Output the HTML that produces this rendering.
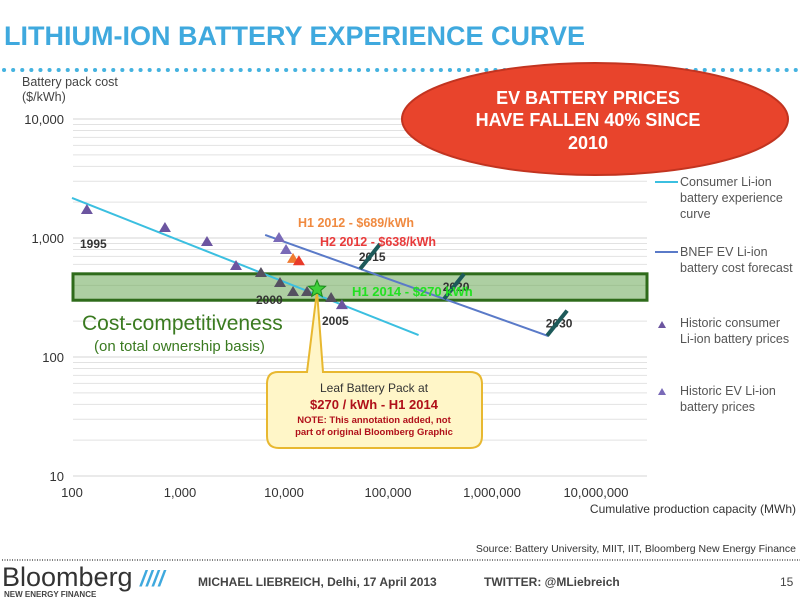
<!DOCTYPE html>
<html><head><meta charset="utf-8"><style>
body{margin:0;background:#fff;width:800px;height:599px;overflow:hidden;font-family:"Liberation Sans",sans-serif;}
svg text{font-family:"Liberation Sans",sans-serif;}
</style></head><body>
<svg id="c" width="800" height="599" viewBox="0 0 800 599">
<text x="4" y="45" font-size="27" font-weight="bold" fill="#3fa9de">LITHIUM-ION BATTERY EXPERIENCE CURVE</text>
<line x1="4" y1="70" x2="800" y2="70" stroke="#45b3e0" stroke-width="4" stroke-dasharray="0.1 9" stroke-linecap="round"/>
<text x="22" y="86" font-size="12.5" fill="#444">Battery pack cost</text>
<text x="22" y="101" font-size="12.5" fill="#444">($/kWh)</text>
<g id="grid"></g>
<g id="ticks"></g>
<rect id="band" fill="#6aa855" fill-opacity="0.55" stroke="#2e6b1a" stroke-width="3"/>
<g id="series"></g>
<text x="82" y="330" font-size="21" fill="#3a7a20">Cost-competitiveness</text>
<text x="94" y="351" font-size="15" fill="#3a7a20">(on total ownership basis)</text>
<g>
<path d="M278,372 L307,372 L317,291 L323,372 L470,372 Q482,372 482,384 L482,436 Q482,448 470,448 L279,448 Q267,448 267,436 L267,384 Q267,372 278,372 Z" fill="#fff6c8" stroke="#e8b830" stroke-width="2"/>
<text x="374" y="392" font-size="12" fill="#333" text-anchor="middle">Leaf Battery Pack at</text>
<text x="374" y="409" font-size="13" font-weight="bold" fill="#b0101a" text-anchor="middle">$270 / kWh - H1 2014</text>
<text x="374" y="423" font-size="9.5" font-weight="bold" fill="#b0101a" text-anchor="middle">NOTE: This annotation added, not</text>
<text x="374" y="435" font-size="9.5" font-weight="bold" fill="#b0101a" text-anchor="middle">part of original Bloomberg Graphic</text>
</g>
<g id="labels"></g>
<ellipse cx="595" cy="119" rx="193" ry="56" fill="#e8442c" stroke="#c23420" stroke-width="2"/>
<g font-size="18" font-weight="bold" fill="#fff" text-anchor="middle">
<text x="588" y="104">EV BATTERY PRICES</text><text x="588" y="126">HAVE FALLEN 40% SINCE</text><text x="588" y="149">2010</text></g>
<g font-size="12.5" fill="#555">
<line x1="655" y1="182" x2="678" y2="182" stroke="#3bbfe0" stroke-width="2"/>
<text x="680" y="186">Consumer Li-ion</text><text x="680" y="202">battery experience</text><text x="680" y="218">curve</text>
<line x1="655" y1="252" x2="678" y2="252" stroke="#5a7ac8" stroke-width="2"/>
<text x="680" y="256">BNEF EV Li-ion</text><text x="680" y="272">battery cost forecast</text>
<path d="M662,321 l4,7 h-8z" fill="#6c55a0"/><text x="680" y="327">Historic consumer</text><text x="680" y="343">Li-ion battery prices</text>
<path d="M662,388 l4,7 h-8z" fill="#7a6ab8"/><text x="680" y="395">Historic EV Li-ion</text><text x="680" y="411">battery prices</text>
</g>
<text x="796" y="513" font-size="12" fill="#333" text-anchor="end">Cumulative production capacity (MWh)</text>
<text x="796" y="552" font-size="10.5" fill="#333" text-anchor="end">Source: Battery University, MIIT, IIT, Bloomberg New Energy Finance</text>
<line x1="2" y1="560" x2="800" y2="560" stroke="#555" stroke-width="1.5" stroke-dasharray="1 1.5"/>
<text x="2" y="586" font-size="27" fill="#333">Bloomberg</text>
<text x="4" y="597" font-size="8" font-weight="bold" fill="#444">NEW ENERGY FINANCE</text>
<text x="140" y="586" font-size="22" font-weight="bold" fill="#3fa9de" font-style="italic">////</text>
<text x="198" y="586" font-size="12" font-weight="bold" fill="#444">MICHAEL LIEBREICH, Delhi, 17 April 2013</text>
<text x="484" y="586" font-size="12" font-weight="bold" fill="#444">TWITTER: @MLiebreich</text>
<text x="780" y="586" font-size="12" fill="#444">15</text>
</svg>
<script>
const yTicks=[10,100,1000,10000];
const yTickLabels=["10","100","1,000","10,000"];
const xTicks=[100,1000,10000,100000,1000000,10000000];
const xTickLabels=["100","1,000","10,000","100,000","1,000,000","10,000,000"];
const bandRange=[300,500];
const consumerCurveX=[100,215000];
const consumerCurveY=[2170,153];
const bnefCurveX=[7200,3800000];
const bnefCurveY=[1060,150];
const consumerPriceX=[139,783,1986,3776,6560,10000,13340,18200,31000,39400];
const consumerPriceY=[1720,1213,925,582,508,419,352,352,313,273];
const evPriceX=[9780,11430,13340,15200];
const evPriceY=[1000,793,667,638];
const evPriceColors=["#7a6ab8","#7a6ab8","#f07a30","#e83a2a"];
const forecastYears=["2015","2020","2030"];
const forecastX=[59000,378000,3700000];
const leafX=[22700];const leafY=[372];
const NS="http://www.w3.org/2000/svg";
const X=v=>72+104*(Math.log10(v)-2);
const Y=v=>119+119*(4-Math.log10(v));
function mk(tag,attrs,parent){const e=document.createElementNS(NS,tag);for(const k in attrs)e.setAttribute(k,attrs[k]);document.getElementById(parent).appendChild(e);return e;}
for(let d=10;d<10000;d*=10){for(let m=1;m<10;m++){const v=d*m;const l=mk('line',{x1:73,x2:647,y1:Y(v),y2:Y(v),stroke:m==1?'#d4d4d4':'#e2e2e2','stroke-width':1},'grid');

}}
const topLine=mk('line',{x1:73,x2:647,y1:Y(10000),y2:Y(10000),stroke:'#d4d4d4'},'grid');


yTicks.forEach((v,i)=>{const t=mk('text',{x:64,y:Y(v)+5,'font-size':13,fill:'#333','text-anchor':'end'},'ticks');t.textContent=yTickLabels[i];

});
xTicks.forEach((v,i)=>{const t=mk('text',{x:X(v)+(i?4:0),y:497,'font-size':13,fill:'#333','text-anchor':'middle'},'ticks');t.textContent=xTickLabels[i];

});
const b=document.getElementById('band');b.setAttribute('x',73);b.setAttribute('width',574);b.setAttribute('y',Y(bandRange[1]));b.setAttribute('height',Y(bandRange[0])-Y(bandRange[1]));
const c1=mk('line',{x1:X(consumerCurveX[0]),y1:Y(consumerCurveY[0]),x2:X(consumerCurveX[1]),y2:Y(consumerCurveY[1]),stroke:'#3bbfe0','stroke-width':2},'series');


const c2=mk('line',{x1:X(bnefCurveX[0]),y1:Y(bnefCurveY[0]),x2:X(bnefCurveX[1]),y2:Y(bnefCurveY[1]),stroke:'#5a7ac8','stroke-width':2},'series');


function tri(x,y,col,name){const p=mk('path',{d:`M${x},${y-6} l6,10 h-12z`,fill:col},'series');

}
consumerPriceX.forEach((v,i)=>tri(X(v),Y(consumerPriceY[i]),i>=4&&i<=8?'#555060':'#6c55a0','consumer-price-point'));
evPriceX.forEach((v,i)=>tri(X(v),Y(evPriceY[i]),evPriceColors[i],'ev-price-point'));
const bl=(x0)=>Y(Math.pow(10,Math.log10(bnefCurveY[0])+(Math.log10(x0)-Math.log10(bnefCurveX[0]))/(Math.log10(bnefCurveX[1])-Math.log10(bnefCurveX[0]))*(Math.log10(bnefCurveY[1])-Math.log10(bnefCurveY[0]))));
forecastX.forEach((v,i)=>{const x=X(v),y=bl(v);const t=mk('text',{x:x+12,y:y-8,'font-size':12,'font-weight':'bold',fill:'#333','text-anchor':'middle'},'labels');t.textContent=forecastYears[i];


const l=mk('line',{x1:x,y1:y,x2:x+20,y2:y-25,stroke:'#1d5a5a','stroke-width':4},'labels');

});
const s=mk('polygon',{points:[0,1,2,3,4,5,6,7,8,9].map(k=>{const r=k%2?4:9,a=-Math.PI/2+k*Math.PI/5;return (X(leafX[0])+r*Math.cos(a))+','+(Y(leafY[0])+r*Math.sin(a));}).join(' '),fill:'#3fd03a',stroke:'#1a8a1a'},'labels');


[["1995",80,248,'#333'],["2000",256,304,'#333'],["2005",322,325,'#333']].forEach(a=>{const t=mk('text',{x:a[1],y:a[2],'font-size':12,'font-weight':'bold',fill:a[3]},'labels');t.textContent=a[0];

});
[["H1 2012 - $689/kWh",298,227,'#f08a40',12.5],["H2 2012 - $638/kWh",320,246,'#e83a3a',12.5],["H1 2014 - $270 kWh",352,296,'#22e022',13]].forEach(a=>{const t=mk('text',{x:a[1],y:a[2],'font-size':a[4],'font-weight':'bold',fill:a[3]},'labels');t.textContent=a[0];

});
</script>
</body></html>
